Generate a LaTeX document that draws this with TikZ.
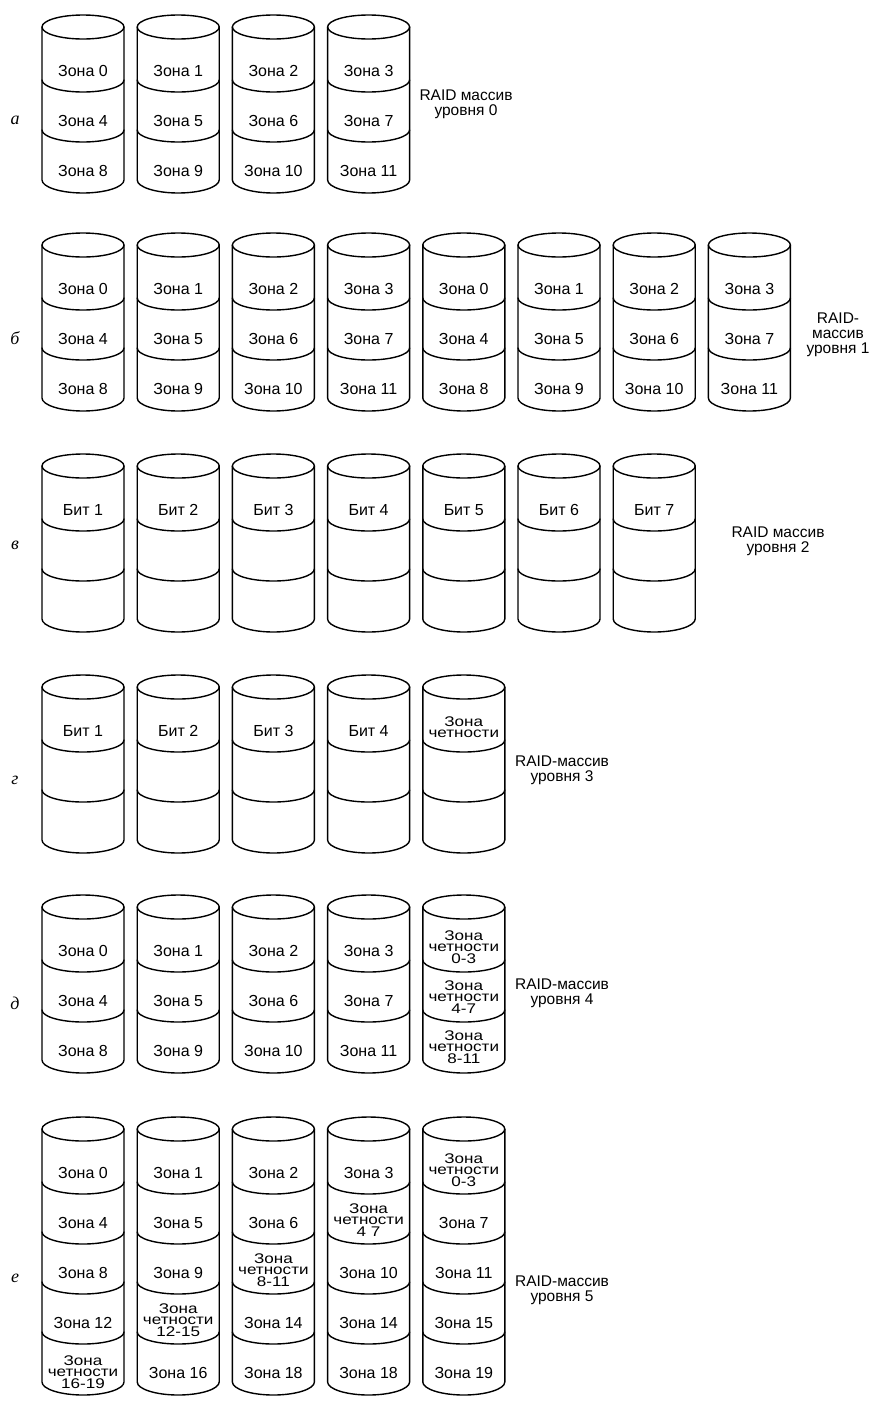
\documentclass[tikz,border=0pt]{standalone}
\usepackage{fontspec}
\setmainfont{Liberation Sans}
\newfontfamily\rowfont{Liberation Serif}
\newfontfamily\parfont[FakeStretch=1.22]{Liberation Sans}
\tikzset{
  disk/.style={line width=1.4pt,line join=round,line cap=round},
  zone/.style={font=\fontsize{16}{16}\selectfont,inner sep=0pt},
  parity/.style={font=\parfont\fontsize{14}{11.5}\selectfont,align=center,inner sep=0pt},
  raid/.style={font=\fontsize{15.5}{15}\selectfont,align=center,inner sep=0pt},
  rowlabel/.style={font=\rowfont\itshape\fontsize{18}{18}\selectfont,inner sep=0pt}
}
% lower half of an ellipse (rx=41, ry=#3) from left to right, y grows downward
\newcommand\halfarc[3]{%
  \draw[disk] (#1-41,#2) .. controls (#1-41,#2+0.55*#3) and (#1-22.6,#2+#3) .. (#1,#2+#3)
     .. controls (#1+22.6,#2+#3) and (#1+41,#2+0.55*#3) .. (#1+41,#2);}
% a disk: centre x, top y, number of segments
\newcommand\drawdisk[3]{%
  \pgfmathsetmacro\dyt{#2+12}%
  \pgfmathsetmacro\dyb{#2+15+50*#3}%
  \draw[disk] (#1,\dyt) ellipse [x radius=41, y radius=12];
  \draw[disk] (#1-41,\dyt) -- (#1-41,\dyb)
     .. controls (#1-41,\dyb+7) and (#1-22.6,\dyb+13) .. (#1,\dyb+13)
     .. controls (#1+22.6,\dyb+13) and (#1+41,\dyb+7) .. (#1+41,\dyb) -- (#1+41,\dyt);
  \pgfmathtruncatemacro\dnm{#3-1}%
  \foreach \kk in {1,...,\dnm}{\pgfmathsetmacro\dys{#2+15+50*\kk}\halfarc{#1}{\dys}{12}}%
}
\begin{document}
\begin{tikzpicture}[x=1pt,y=-1pt]
\useasboundingbox (0,0) rectangle (876,1403);
\fill[white] (0,0) rectangle (876,1403);

% ---------- row a ----------
\node[rowlabel] (la) at (15,120) {а};
\foreach \c in {1,...,4}{
  \pgfmathsetmacro\X{83+95.2*(\c-1)}
  \drawdisk{\X}{15}{3}
  \foreach \k in {1,2,3}{
    \pgfmathtruncatemacro\z{4*(\k-1)+\c-1}
    \pgfmathsetmacro\Y{15+56+50*(\k-1)}
    \node[zone] (a-\c-\k) at (\X,\Y) {Зона \z};
  }
}
\node[raid] (ra) at (466,104) {RAID массив\\уровня 0};

% ---------- row b ----------
\node[rowlabel] (lb) at (15,338) {б};
\foreach \c in {1,...,8}{
  \pgfmathsetmacro\X{83+95.2*(\c-1)}
  \drawdisk{\X}{233}{3}
  \foreach \k in {1,2,3}{
    \pgfmathtruncatemacro\z{4*(\k-1)+mod(\c-1,4)}
    \pgfmathsetmacro\Y{233+56+50*(\k-1)}
    \node[zone] (b-\c-\k) at (\X,\Y) {Зона \z};
  }
}
\node[raid] (rb) at (838,335) {RAID-\\массив\\уровня 1};

% ---------- row v ----------
\node[rowlabel] (lv) at (15,545) {в};
\foreach \c in {1,...,7}{
  \pgfmathsetmacro\X{83+95.2*(\c-1)}
  \drawdisk{\X}{454}{3}
  \node[zone] (v-\c) at (\X,454+56) {Бит \c};
}
\node[raid] (rv) at (778,541) {RAID массив\\уровня 2};

% ---------- row g ----------
\node[rowlabel] (lg) at (15,780) {г};
\foreach \c in {1,...,5}{
  \pgfmathsetmacro\X{83+95.2*(\c-1)}
  \drawdisk{\X}{675}{3}
}
\foreach \c in {1,...,4}{
  \pgfmathsetmacro\X{83+95.2*(\c-1)}
  \node[zone] (g-\c) at (\X,675+56) {Бит \c};
}
\node[parity] (g-5) at (463.8,675+52) {Зона\\четности};
\node[raid] (rg) at (562,770) {RAID-массив\\уровня 3};

% ---------- row d ----------
\node[rowlabel] (ld) at (15,1003) {д};
\foreach \c in {1,...,5}{
  \pgfmathsetmacro\X{83+95.2*(\c-1)}
  \drawdisk{\X}{895}{3}
}
\foreach \c in {1,...,4}{
  \pgfmathsetmacro\X{83+95.2*(\c-1)}
  \foreach \k in {1,2,3}{
    \pgfmathtruncatemacro\z{4*(\k-1)+\c-1}
    \pgfmathsetmacro\Y{895+56+50*(\k-1)}
    \node[zone] (d-\c-\k) at (\X,\Y) {Зона \z};
  }
}
\node[parity] (d-5-1) at (463.8,895+52) {Зона\\четности\\0-3};
\node[parity] (d-5-2) at (463.8,895+102) {Зона\\четности\\4-7};
\node[parity] (d-5-3) at (463.8,895+152) {Зона\\четности\\8-11};
\node[raid] (rd) at (562,993) {RAID-массив\\уровня 4};

% ---------- row e ----------
\node[rowlabel] (le) at (15,1278) {е};
\foreach \c in {1,...,5}{
  \pgfmathsetmacro\X{83+95.2*(\c-1)}
  \drawdisk{\X}{1117}{5}
}
% column 1
\node[zone]   (e-1-1) at (83,1173) {Зона 0};
\node[zone]   (e-1-2) at (83,1223) {Зона 4};
\node[zone]   (e-1-3) at (83,1273) {Зона 8};
\node[zone]   (e-1-4) at (83,1323) {Зона 12};
\node[parity] (e-1-5) at (83,1372) {Зона\\четности\\16-19};
% column 2
\node[zone]   (e-2-1) at (178.2,1173) {Зона 1};
\node[zone]   (e-2-2) at (178.2,1223) {Зона 5};
\node[zone]   (e-2-3) at (178.2,1273) {Зона 9};
\node[parity] (e-2-4) at (178.2,1320) {Зона\\четности\\12-15};
\node[zone]   (e-2-5) at (178.2,1373) {Зона 16};
% column 3
\node[zone]   (e-3-1) at (273.4,1173) {Зона 2};
\node[zone]   (e-3-2) at (273.4,1223) {Зона 6};
\node[parity] (e-3-3) at (273.4,1270) {Зона\\четности\\8-11};
\node[zone]   (e-3-4) at (273.4,1323) {Зона 14};
\node[zone]   (e-3-5) at (273.4,1373) {Зона 18};
% column 4
\node[zone]   (e-4-1) at (368.6,1173) {Зона 3};
\node[parity] (e-4-2) at (368.6,1220) {Зона\\четности\\4 7};
\node[zone]   (e-4-3) at (368.6,1273) {Зона 10};
\node[zone]   (e-4-4) at (368.6,1323) {Зона 14};
\node[zone]   (e-4-5) at (368.6,1373) {Зона 18};
% column 5
\node[parity] (e-5-1) at (463.8,1170) {Зона\\четности\\0-3};
\node[zone]   (e-5-2) at (463.8,1223) {Зона 7};
\node[zone]   (e-5-3) at (463.8,1273) {Зона 11};
\node[zone]   (e-5-4) at (463.8,1323) {Зона 15};
\node[zone]   (e-5-5) at (463.8,1373) {Зона 19};
\node[raid] (re) at (562,1290) {RAID-массив\\уровня 5};
\end{tikzpicture}
\end{document}
